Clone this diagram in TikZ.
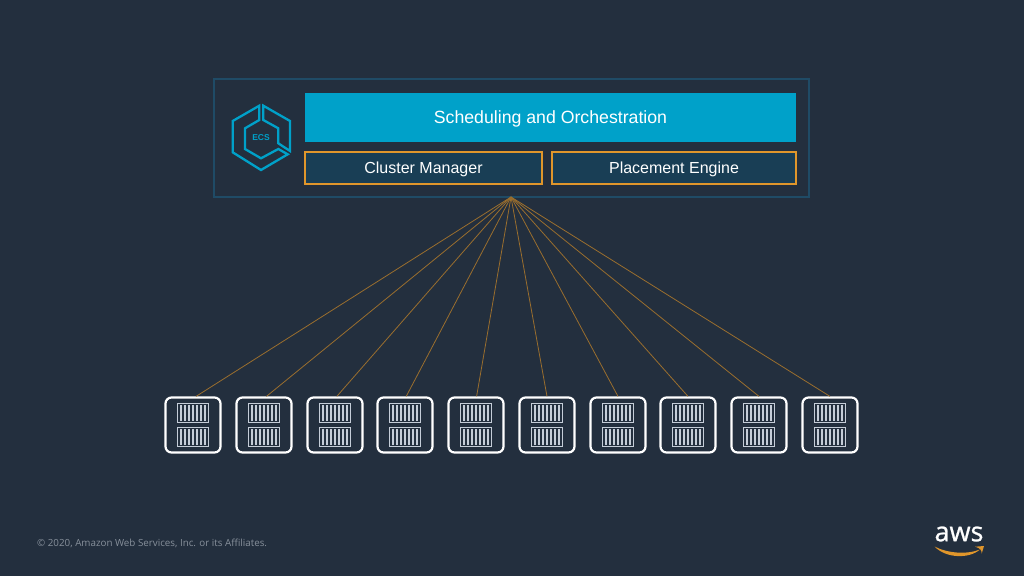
\documentclass[tikz,border=0pt]{standalone}
\usepackage{fontspec}
\setmainfont{Liberation Sans}
\newfontfamily\footfont{Open Sans}
\newfontfamily\awsfont[FakeBold=0.9]{Open Sans}
\usetikzlibrary{positioning}
\definecolor{slide}{HTML}{232F3E}
\definecolor{framecol}{HTML}{1F4B66}
\definecolor{bannercol}{HTML}{00A1C9}
\definecolor{boxcol}{HTML}{193E55}
\definecolor{awsorange}{HTML}{E0962B}
\definecolor{linkcol}{HTML}{9A6E2E}
\definecolor{stripecol}{HTML}{C5CDD8}
\definecolor{footcol}{HTML}{87909B}
\tikzset{
	panel/.style={draw=framecol,line width=1.1pt,minimum width=595pt,minimum height=118pt,inner sep=0pt},
	banner/.style={fill=bannercol,text=white,minimum width=491pt,minimum height=49pt,inner sep=0pt,text height=12pt,text depth=0.5pt,font=\fontsize{17.7}{20}\selectfont},
	part/.style={draw=awsorange,fill=boxcol,text=white,line width=1.2pt,minimum height=32pt,inner sep=0pt,text height=11.5pt,text depth=0.5pt,font=\fontsize{16}{20}\selectfont},
	server/.style={draw=white,line width=2.2pt,rounded corners=6pt,minimum width=55pt,minimum height=55pt,inner sep=0pt},
	crate/.style={draw=stripecol,line width=1.2pt,minimum width=31pt,minimum height=19pt,inner sep=0pt},
	link/.style={draw=linkcol,line width=0.8pt},
	logo/.style={draw=bannercol,line width=2.3pt,line join=miter}
}
\begin{document}
\begin{tikzpicture}[x=1pt,y=-1pt]
	\fill[slide] (0,0) rectangle (1024,576);
	\useasboundingbox (0,0) rectangle (1024,576);

	\node[panel] (frame) at (511.5,138) {};
	\node[banner] (sched) at (550.5,117.5) {Scheduling and Orchestration};
	\node[part,minimum width=237pt] (cluster) at (423.5,168) {Cluster Manager};
	\node[part,minimum width=244pt] (placement) at (674,168) {Placement Engine};

	% ecs logo
	\draw[logo] (259.3,105.7) -- (232.7,121) -- (232.7,152.3) -- (261,170) -- (287.7,154.3) -- (278.3,149) -- (261,158.3) -- (245,149) -- (245,128.3) -- (259.3,120) -- cycle;
	\draw[logo] (263.3,105.7) -- (290,121) -- (290,151) -- (278.3,143.3) -- (278.3,128.3) -- (263.3,120) -- cycle;
	\node[text=bannercol,inner sep=0pt,font=\bfseries\fontsize{8.5}{10}\selectfont] (ecs) at (261,138) {ECS};

	\coordinate (apex) at (511,197);
	\foreach \i in {0,...,9} {
		\pgfmathsetmacro{\sx}{round(193+70.78*\i)}
		\pgfmathsetmacro{\dx}{max(0,(5-\i)*0.6)}
		\node[server] (s\i) at (\sx,425) {};
		\node[crate] (a\i) at (\sx,413) {};
		\node[crate] (b\i) at (\sx,437) {};
		\foreach \k in {-3,...,3} {
			\draw[stripecol,line width=1.6pt] ([xshift=\k*4pt,yshift=2.5pt]a\i.south) -- ([xshift=\k*4pt,yshift=-2.5pt]a\i.north);
			\draw[stripecol,line width=1.6pt] ([xshift=\k*4pt,yshift=2.5pt]b\i.south) -- ([xshift=\k*4pt,yshift=-2.5pt]b\i.north);
		}
		\draw[link] (apex) -- ([xshift=\dx pt]s\i.north);
	}

	\node[text=footcol,inner sep=0pt,anchor=west,font=\footfont\fontsize{9.8}{11}\selectfont] (copy) at (37,543.5) {© 2020, Amazon Web Services, Inc. or its Affiliates.};

	% aws mark
	\node[text=white,inner sep=0pt,font=\awsfont\fontsize{27}{30}\selectfont] (aws) at (959,534) {aws};
	\fill[awsorange] (934.5,546.5) .. controls (947,553) and (966,555) .. (980,549.5) .. controls (969,559) and (946,558.5) .. (934.5,546.5) -- cycle;
	\fill[awsorange] (975,546.7) -- (984,546) -- (981.7,553.5) .. controls (981.7,550) and (980,548) .. (975,546.7) -- cycle;
\end{tikzpicture}
\end{document}
